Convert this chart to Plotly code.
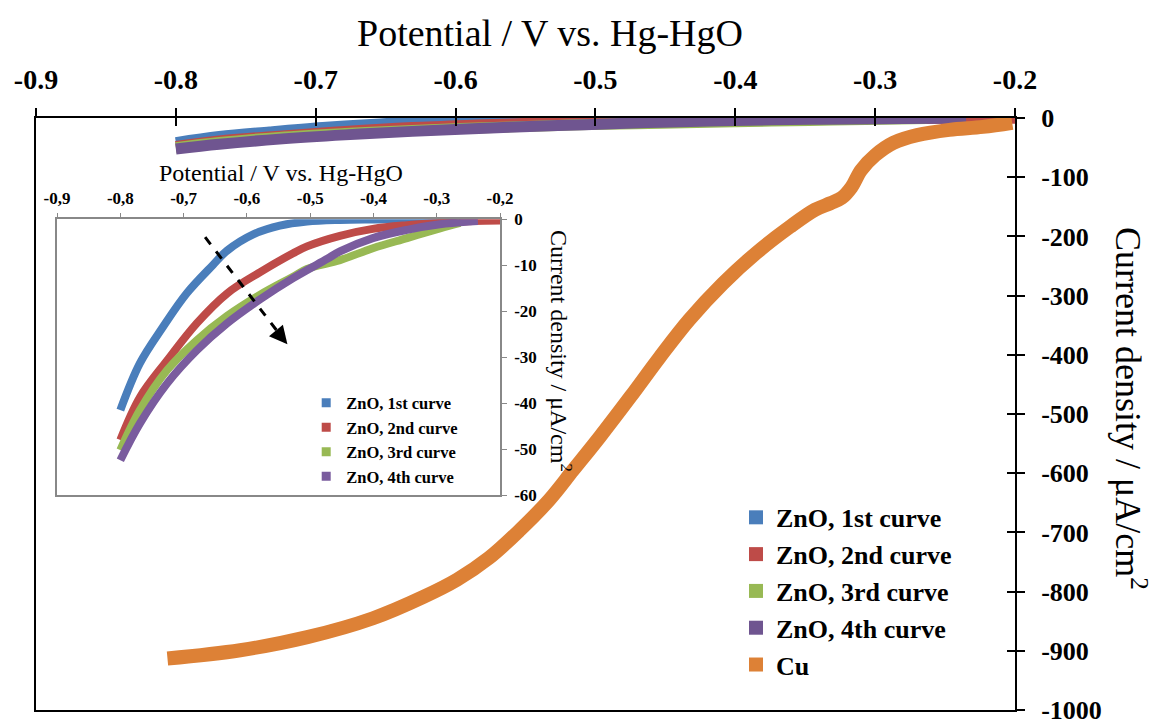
import plotly.graph_objects as go

# ---------------- data ----------------
series_names = ["ZnO, 1st curve", "ZnO, 2nd curve", "ZnO, 3rd curve", "ZnO, 4th curve"]
colors = ["#4A7EBB", "#BE4B48", "#98B954", "#7A5C9E"]
main_colors = ["#4A7EBB", "#BE4B48", "#98B954", "#6F5590"]
cu_name = "Cu"
cu_color = "#DD8136"

zno1_x = [-0.800, -0.769, -0.733, -0.695, -0.654, -0.631, -0.590, -0.548, -0.505, -0.453, -0.400, -0.350, -0.300, -0.263]
zno1_y = [-41.5, -31.3, -23.5, -16.1, -10.0, -6.8, -3.3, -1.4, -0.5, -0.15, -0.05, 0.0, 0.0, 0.0]

zno2_x = [-0.800, -0.769, -0.726, -0.679, -0.631, -0.579, -0.527, -0.505, -0.453, -0.401, -0.347, -0.295, -0.243, -0.200]
zno2_y = [-48.0, -38.7, -30.7, -22.6, -16.1, -11.5, -7.4, -5.9, -3.6, -2.1, -1.3, -0.8, -0.4, -0.3]

zno3_x = [-0.800, -0.769, -0.726, -0.679, -0.631, -0.579, -0.527, -0.505, -0.453, -0.401, -0.347, -0.295, -0.263]
zno3_y = [-50.2, -41.5, -32.8, -26.3, -21.0, -16.4, -12.5, -10.8, -8.9, -6.3, -4.1, -2.0, -0.8]

zno4_x = [-0.800, -0.769, -0.726, -0.679, -0.631, -0.579, -0.527, -0.473, -0.453, -0.401, -0.347, -0.295, -0.248, -0.235]
zno4_y = [-52.4, -44.4, -35.7, -28.5, -22.6, -17.4, -12.8, -8.6, -7.0, -4.1, -2.3, -1.1, -0.5, -0.4]

cu_x = [-0.806, -0.754, -0.706, -0.659, -0.623, -0.599, -0.576, -0.554, -0.533, -0.516, -0.497, -0.475,
        -0.454, -0.433, -0.409, -0.385, -0.361, -0.343, -0.332, -0.324, -0.317, -0.310, -0.300, -0.287,
        -0.270, -0.247, -0.223, -0.202]
cu_y = [-913, -899, -877, -845, -809, -780, -743, -696, -645, -595, -539, -471,
        -404, -341, -280, -228, -184, -155, -144, -135, -117, -88, -63, -42,
        -29, -20, -15, -8]

main_xticks = [-0.9, -0.8, -0.7, -0.6, -0.5, -0.4, -0.3, -0.2]
main_xticklabels = ["-0.9", "-0.8", "-0.7", "-0.6", "-0.5", "-0.4", "-0.3", "-0.2"]
main_yticks = [0, -100, -200, -300, -400, -500, -600, -700, -800, -900, -1000]
main_yticklabels = ["0", "-100", "-200", "-300", "-400", "-500", "-600", "-700", "-800", "-900", "-1000"]
inset_xticks = [-0.9, -0.8, -0.7, -0.6, -0.5, -0.4, -0.3, -0.2]
inset_xticklabels = ["-0,9", "-0,8", "-0,7", "-0,6", "-0,5", "-0,4", "-0,3", "-0,2"]
inset_yticks = [0, -10, -20, -30, -40, -50, -60]
inset_yticklabels = ["0", "-10", "-20", "-30", "-40", "-50", "-60"]

arrow_x = [-0.666, -0.540]
arrow_y = [-3.9, -26.5]

x_title = "Potential / V vs. Hg-HgO"
y_title = "Current density / μA/cm<sup>2</sup>"

zno_x = [zno1_x, zno2_x, zno3_x, zno4_x]
zno_y = [zno1_y, zno2_y, zno3_y, zno4_y]

SERIF = "Liberation Serif, Times New Roman, serif"

fig = go.Figure()

# main plot ZnO curves
for xs, ys, c in zip(zno_x, zno_y, main_colors):
    fig.add_trace(go.Scatter(x=xs, y=ys, mode="lines", line=dict(color=c, width=11, shape="spline"),
                             showlegend=False, xaxis="x", yaxis="y", hoverinfo="skip"))
# Cu
fig.add_trace(go.Scatter(x=cu_x, y=cu_y, mode="lines", line=dict(color=cu_color, width=14, shape="spline"),
                         showlegend=False, xaxis="x", yaxis="y", hoverinfo="skip"))

# inset curves
for xs, ys, c in zip(zno_x, zno_y, colors):
    fig.add_trace(go.Scatter(x=xs, y=ys, mode="lines", line=dict(color=c, width=8, shape="spline"),
                             showlegend=False, xaxis="x2", yaxis="y2", hoverinfo="skip"))

# inset dashed arrow
fig.add_trace(go.Scatter(x=arrow_x, y=arrow_y, mode="lines", line=dict(color="black", width=3, dash="dash"),
                         showlegend=False, xaxis="x2", yaxis="y2", hoverinfo="skip"))

# legend entries (square symbols)
for name, c in zip(series_names + [cu_name], main_colors + [cu_color]):
    fig.add_trace(go.Scatter(x=[None], y=[None], mode="markers", name=name,
                             marker=dict(symbol="square", size=14, color=c),
                             xaxis="x", yaxis="y", legend="legend"))
for name, c in zip(series_names, colors):
    fig.add_trace(go.Scatter(x=[None], y=[None], mode="markers", name=name,
                             marker=dict(symbol="square", size=9, color=c),
                             xaxis="x2", yaxis="y2", legend="legend2"))

# helper traces for cross-tick overlay axes
fig.add_trace(go.Scatter(x=[None], y=[None], xaxis="x3", yaxis="y", showlegend=False))
fig.add_trace(go.Scatter(x=[None], y=[None], xaxis="x", yaxis="y3", showlegend=False))

tick_font_x = dict(family=SERIF, size=28, color="black", weight="bold")
tick_font_y = dict(family=SERIF, size=26, color="black", weight="bold")
inset_tick_font = dict(family=SERIF, size=17, color="black", weight="bold")

fig.update_layout(
    width=1153, height=720,
    margin=dict(l=36, r=138, t=118, b=10),
    paper_bgcolor="white", plot_bgcolor="white",
    showlegend=True,
    xaxis=dict(domain=[0, 1], range=[-0.9, -0.2], side="top", anchor="y", automargin=False,
               tickvals=main_xticks, ticktext=main_xticklabels, tickfont=tick_font_x,
               ticklabeloverflow="allow",
               ticks="outside", ticklen=8, tickwidth=1.5, tickcolor="black", ticklabelstandoff=8,
               showline=True, linecolor="black", linewidth=2, mirror=True,
               showgrid=False, zeroline=False),
    yaxis=dict(domain=[0, 1], range=[-1000, 0], side="right", anchor="x", automargin=False,
               tickvals=main_yticks, ticktext=main_yticklabels, tickfont=tick_font_y,
               ticklabeloverflow="allow",
               ticks="outside", ticklen=8, tickwidth=1.5, tickcolor="black", ticklabelstandoff=11,
               showline=True, linecolor="black", linewidth=2, mirror=True,
               showgrid=False, zeroline=False),
    xaxis3=dict(overlaying="x", anchor="y", side="top", range=[-0.9, -0.2], tickvals=main_xticks,
                automargin=False,
                showticklabels=False, ticks="inside", ticklen=8, tickwidth=1.5, tickcolor="black",
                showline=False, showgrid=False, zeroline=False),
    yaxis3=dict(overlaying="y", anchor="x", side="right", range=[-1000, 0], tickvals=main_yticks,
                automargin=False,
                showticklabels=False, ticks="inside", ticklen=8, tickwidth=1.5, tickcolor="black",
                showline=False, showgrid=False, zeroline=False),
    xaxis2=dict(domain=[0.0215, 0.474], range=[-0.9, -0.2], side="top", anchor="y2", automargin=False,
                tickvals=inset_xticks, ticktext=inset_xticklabels, tickfont=inset_tick_font,
                ticklabeloverflow="allow",
                ticks="outside", ticklen=4, tickcolor="#888888", ticklabelstandoff=3,
                showline=True, linecolor="#888888", linewidth=1.5, mirror=True,
                showgrid=False, zeroline=False),
    yaxis2=dict(domain=[0.363, 0.829], range=[-60, 0], side="right", anchor="x2", automargin=False,
                tickvals=inset_yticks, ticktext=inset_yticklabels, tickfont=inset_tick_font,
                ticklabeloverflow="allow",
                ticks="outside", ticklen=5, tickcolor="#888888", ticklabelstandoff=4,
                showline=True, linecolor="#888888", linewidth=1.5, mirror=True,
                showgrid=False, zeroline=False),
    legend=dict(x=0.715, y=0.365, xanchor="left", yanchor="top", bgcolor="rgba(0,0,0,0)",
                font=dict(family=SERIF, size=26, color="black", weight="bold"),
                tracegroupgap=0, itemwidth=30),
    legend2=dict(x=0.276, y=0.548, xanchor="left", yanchor="top", bgcolor="rgba(0,0,0,0)",
                 font=dict(family=SERIF, size=16.5, color="black", weight="bold"),
                 tracegroupgap=0, itemwidth=30),
    annotations=[
        dict(text=x_title, xref="paper", yref="paper", x=0.525, y=1.1436, showarrow=False,
             xanchor="center", yanchor="middle", font=dict(family=SERIF, size=38, color="black")),
        dict(text=y_title, xref="paper", yref="paper", x=1.1185, y=0.51, showarrow=False,
             textangle=90, xanchor="center", yanchor="middle", font=dict(family=SERIF, size=36, color="black")),
        dict(text=x_title, xref="paper", yref="paper", x=0.250, y=0.907, showarrow=False,
             xanchor="center", yanchor="middle", font=dict(family=SERIF, size=24, color="black")),
        dict(text=y_title, xref="paper", yref="paper", x=0.537, y=0.607, showarrow=False,
             textangle=90, xanchor="center", yanchor="middle", font=dict(family=SERIF, size=24, color="black")),
        dict(x=arrow_x[1] + 0.004, y=arrow_y[1] - 0.7, ax=arrow_x[1] - 0.008, ay=arrow_y[1] + 1.3,
             xref="x2", yref="y2", axref="x2", ayref="y2", text="", showarrow=True,
             arrowhead=2, arrowsize=1.2, arrowwidth=3, arrowcolor="black"),
    ],
)

fig.write_html("out.html", config={"displayModeBar": False},
               post_script="document.body.style.margin='0';")
